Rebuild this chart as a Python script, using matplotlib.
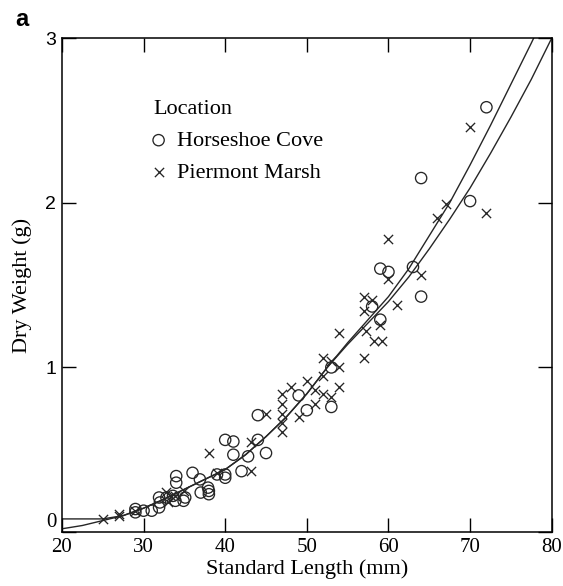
import numpy as np
import matplotlib
matplotlib.use("Agg")
from matplotlib import pyplot as plt

# Horseshoe Cove (circles)
hc_len = [29, 29, 30, 31, 31.9, 32, 31.9, 32.8, 33.6, 33.9, 34, 34, 34.9, 35.1, 36,
          36.9, 37, 37.9, 38, 38, 39, 40, 40, 40, 41, 41, 42, 42.8, 44, 44, 45, 49,
          50, 53, 53, 58, 59, 59, 60, 63, 64, 64, 70, 72]
hc_wt = [0.14, 0.12, 0.13, 0.13, 0.15, 0.18, 0.21, 0.21, 0.22, 0.19, 0.34, 0.30, 0.19,
         0.21, 0.36, 0.32, 0.24, 0.27, 0.25, 0.23, 0.35, 0.35, 0.33, 0.56, 0.55, 0.47,
         0.37, 0.46, 0.56, 0.71, 0.48, 0.83, 0.74, 1.00, 0.76, 1.37, 1.60, 1.29, 1.58,
         1.61, 1.43, 2.15, 2.01, 2.58]

# Piermont Marsh (crosses)
pm_len = [25, 27, 27, 29, 32.8, 33.3, 33.9, 33, 35, 38, 39, 43.1, 43.1, 45, 47, 47, 47,
          47, 47, 48, 49, 50, 51, 51, 52, 52, 52, 53, 53, 54, 54, 54, 57, 58, 57, 59,
          61, 57.2, 58.2, 59.2, 57, 60, 60, 64, 66, 67, 70, 72]
pm_wt = [0.077, 0.10, 0.11, 0.13, 0.245, 0.22, 0.22, 0.18, 0.25, 0.48, 0.36, 0.55, 0.37,
         0.72, 0.84, 0.78, 0.72, 0.66, 0.61, 0.88, 0.70, 0.92, 0.86, 0.78, 1.06, 0.95,
         0.84, 1.04, 0.82, 1.00, 0.88, 1.21, 1.43, 1.41, 1.34, 1.26, 1.38, 1.22, 1.16,
         1.16, 1.06, 1.78, 1.54, 1.56, 1.91, 1.99, 2.46, 1.94]

# fitted curves
fit_len = [20, 22.5, 25, 27.5, 30, 32.5, 35, 37.5, 40, 42.5, 45, 47.5, 50, 52.5, 55,
           57.5, 60, 62.5, 65, 67.5, 70, 72.5, 75, 77.5, 80]
fit_a = [0.08, 0.08, 0.08, 0.10, 0.145, 0.20, 0.26, 0.32, 0.38, 0.47, 0.58, 0.70, 0.84,
         1.00, 1.15, 1.29, 1.43, 1.60, 1.80, 2.00, 2.23, 2.47, 2.72, 2.97, 3.23]
fit_b = [0.02, 0.04, 0.07, 0.10, 0.145, 0.20, 0.26, 0.32, 0.38, 0.47, 0.58, 0.70, 0.84,
         1.00, 1.14, 1.27, 1.40, 1.55, 1.72, 1.90, 2.09, 2.30, 2.52, 2.75, 3.00]

serif = ["Liberation Serif", "DejaVu Serif"]
sans = ["Liberation Sans", "DejaVu Sans"]
ink = "#262626"

fig = plt.figure(figsize=(5.63, 5.86), dpi=100)
ax = fig.add_axes([0.110, 0.092, 0.870, 0.843])

ax.plot(fit_len, fit_a, color=ink, lw=1.0)
ax.plot(fit_len, fit_b, color=ink, lw=1.0)

ax.scatter(hc_len, hc_wt, s=66, facecolors="none", edgecolors=ink,
           linewidths=0.95, label="Horseshoe Cove", zorder=3)
ax.scatter(pm_len, pm_wt, s=44, marker="x", color=ink,
           linewidths=0.95, label="Piermont Marsh", zorder=3)

ax.set_xlim(20, 80)
ax.set_ylim(0, 3)
ax.set_xticks([20, 30, 40, 50, 60, 70, 80])
ax.set_yticks([0, 1, 2, 3])
ax.tick_params(direction="in", length=10, width=1, top=True, right=True, pad=4)
for lab in ax.get_xticklabels():
    lab.set_family(serif)
    lab.set_fontsize(15)
for lab in ax.get_yticklabels():
    if lab.get_text() == "0":
        lab.set_family(serif)
        lab.set_fontsize(15)
        lab.set_verticalalignment("bottom")
    else:
        lab.set_family(sans)
        lab.set_fontsize(14)
for sp in ax.spines.values():
    sp.set_linewidth(1.1)

ax.set_xlabel("Standard Length (mm)", family=serif, fontsize=16, labelpad=2)
ax.set_ylabel("Dry Weight (g)", family=serif, fontsize=16, labelpad=10)

leg = ax.legend(title="Location", loc="upper left", bbox_to_anchor=(0.186, 0.874),
                frameon=False, prop={"family": serif, "size": 16},
                title_fontproperties={"family": serif, "size": 16},
                handlelength=0.5, handletextpad=0.6, labelspacing=0.5,
                borderpad=0, borderaxespad=0)
leg._legend_box.align = "left"

fig.text(0.027, 0.967, "a", family=sans, fontsize=17, fontweight="bold",
         va="center", ha="left")

fig.savefig("out.png", dpi=100)
